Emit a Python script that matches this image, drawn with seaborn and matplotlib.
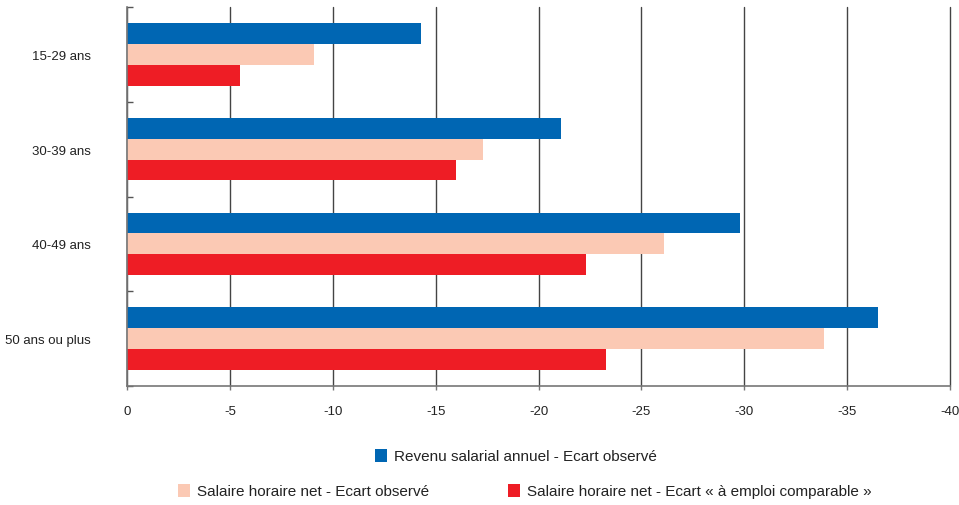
import matplotlib
matplotlib.use("Agg")
import matplotlib.pyplot as plt
from matplotlib.patches import Patch
import seaborn as sns
import pandas as pd

# Écarts de rémunération femmes / hommes par tranche d'âge (en %)
ages = ["15-29 ans", "30-39 ans", "40-49 ans", "50 ans ou plus"]
series = [
    "Revenu salarial annuel - Ecart observé",
    "Salaire horaire net - Ecart observé",
    "Salaire horaire net - Ecart « à emploi comparable »",
]
revenu_annuel = [-14.3, -21.1, -29.8, -36.5]
horaire_observe = [-9.1, -17.3, -26.1, -33.9]
horaire_comparable = [-5.5, -16.0, -22.3, -23.3]
xticks = [0, -5, -10, -15, -20, -25, -30, -35, -40]

colors = ["#0066B3", "#FBC9B4", "#EE1D25"]

df = pd.DataFrame({
    "age": ages * 3,
    "serie": [series[0]] * 4 + [series[1]] * 4 + [series[2]] * 4,
    "ecart": revenu_annuel + horaire_observe + horaire_comparable,
})

sns.set_style("white")
plt.rcParams["font.family"] = ["Liberation Sans", "DejaVu Sans"]
plt.rcParams["axes.unicode_minus"] = False

fig = plt.figure(figsize=(9.59, 5.06), dpi=100)
ax = fig.add_axes([127 / 959, 1 - 387 / 506, (950 - 127) / 959, (387 - 8) / 506])

sns.barplot(data=df, y="age", x="ecart", hue="serie", order=ages,
            hue_order=series, palette=colors, orient="h", width=0.66,
            saturation=1, edgecolor="none", linewidth=0, legend=False,
            errorbar=None, ax=ax)

ax.set_xlim(0, -40)
ax.set_ylim(3.5, -0.5)
ax.set_xticks(xticks)
ax.set_xticklabels([str(v) for v in xticks], fontsize=9.5, color="#222222")
ax.set_xlabel("")
ax.set_ylabel("")

ax.set_axisbelow(True)
ax.grid(axis="x", color="#444444", linewidth=1.0)
ax.grid(axis="y", visible=False)
for gl in ax.get_xgridlines():
    gl.set_clip_on(False)

# Category labels centred on groups; small ticks at group boundaries
ax.set_yticks(range(len(ages)))
ax.set_yticklabels(ages, fontsize=9.5, color="#222222")
ax.tick_params(axis="y", which="major", left=True, length=0, pad=26)
ax.set_yticks([i - 0.5 for i in range(len(ages) + 1)], minor=True)
ax.tick_params(axis="y", which="minor", left=True, length=4, direction="in",
               color="#555555", width=1)
ax.tick_params(axis="x", which="major", bottom=True, length=3, direction="out",
               color="#777777", width=1, pad=11)

for side in ["top", "right"]:
    ax.spines[side].set_visible(False)
for side in ["left", "bottom"]:
    ax.spines[side].set_color("#777777")
    ax.spines[side].set_linewidth(1.2)

# Legend: one entry on the first row, two on the second
fs = 11
fs_px = fs * 100 / 72
entries = [
    (series[0], colors[0], 375, 457),
    (series[1], colors[1], 178, 492),
    (series[2], colors[2], 508, 492),
]
for label, col, x_px, y_px in entries:
    fig.legend(handles=[Patch(facecolor=col, edgecolor="none", label=label)],
               loc="center left", bbox_to_anchor=(x_px / 959, 1 - y_px / 506),
               frameon=False, fontsize=fs, borderpad=0, borderaxespad=0,
               handlelength=12 / fs_px, handleheight=14 / fs_px,
               handletextpad=7 / fs_px, labelcolor="#222222")

fig.savefig("out.png", dpi=100)
